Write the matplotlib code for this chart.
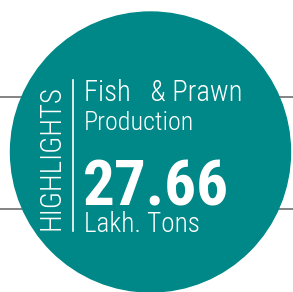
import matplotlib
matplotlib.use("Agg")
import matplotlib.pyplot as plt
from matplotlib.patches import Circle

# 数据
side_label = "HIGHLIGHTS"
title_lines = ["Fish   & Prawn", "Production"]
value = 27.66
unit = "Lakh. Tons"

TEAL = "#008787"
GREY = "#7a7a7a"
FONT = ["Roboto Condensed", "Liberation Sans Narrow", "Roboto", "DejaVu Sans"]

fig = plt.figure(figsize=(2.93, 2.92), dpi=100)
ax = fig.add_axes([0, 0, 1, 1])
ax.set_xlim(0, 293)
ax.set_ylim(292, 0)
ax.axis("off")

# 背景横线
for y in (97, 209):
    ax.plot([0, 293], [y, y], color=GREY, lw=1.3, zorder=1)

ax.add_patch(Circle((150.5, 152), 140, color=TEAL, zorder=2))

# 竖线
ax.plot([73, 73], [80, 231], color="white", lw=1.2, zorder=3)

renderer = fig.canvas.get_renderer()


def fit(t, target, vertical=False):
    # 按目标像素宽度调整字号
    bb = t.get_window_extent(renderer)
    size = bb.height if vertical else bb.width
    t.set_fontsize(t.get_fontsize() * target / size)


t = ax.text(52, 158, side_label, rotation=90, ha="center", va="center",
            color="white", fontsize=19, fontweight="light", family=FONT, zorder=4)
fit(t, 145, vertical=True)

t = ax.text(84, 101, title_lines[0], ha="left", va="baseline",
            color="white", fontsize=18, fontweight="light", family=FONT, zorder=4)
fit(t, 159)
t = ax.text(84, 130, title_lines[1], ha="left", va="baseline",
            color="white", fontsize=18, fontweight="light", family=FONT, zorder=4)
fit(t, 111)
t = ax.text(83, 205, f"{value:.2f}", ha="left", va="baseline",
            color="white", fontsize=50, fontweight="bold", family=FONT, zorder=4)
fit(t, 146)
t = ax.text(84, 232, unit, ha="left", va="baseline",
            color="white", fontsize=18, fontweight="light", family=FONT, zorder=4)
fit(t, 116)

fig.savefig("out.png", dpi=100, facecolor="white")
